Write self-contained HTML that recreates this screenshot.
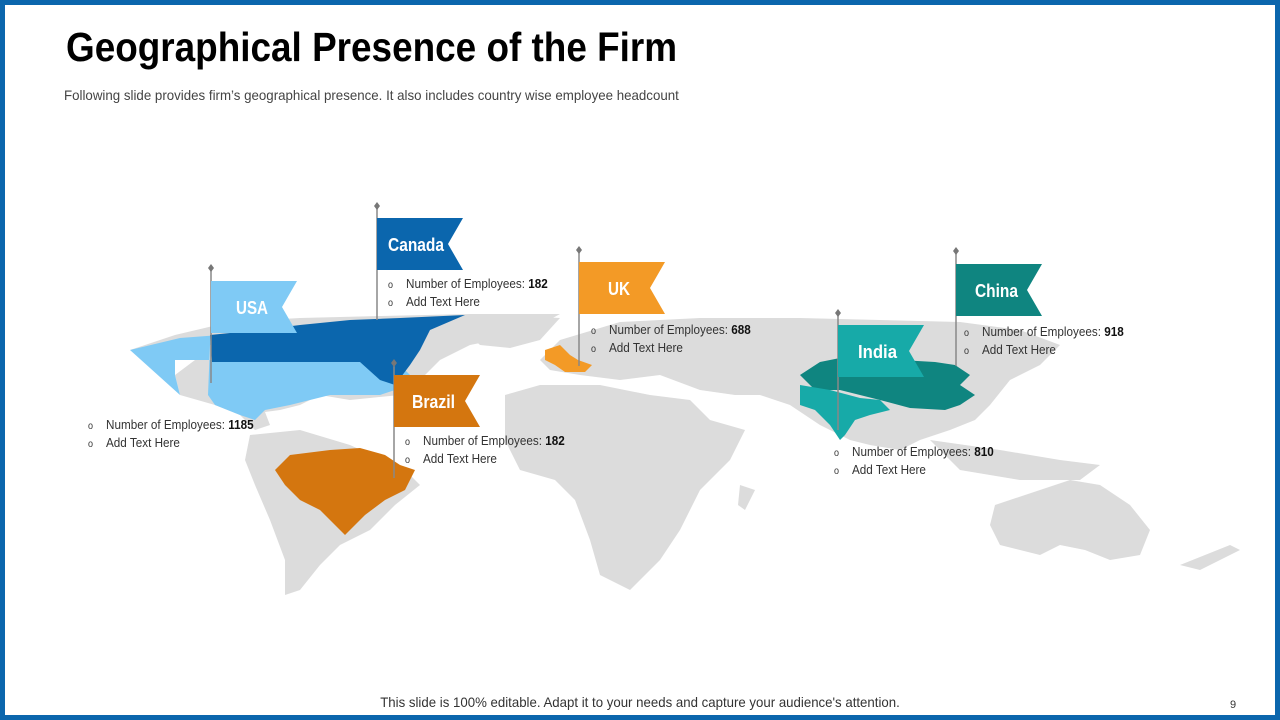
<!DOCTYPE html>
<html><head><meta charset="utf-8"><style>
html,body{margin:0;padding:0}
body{width:1280px;height:720px;position:relative;overflow:hidden;background:#fff;font-family:"Liberation Sans",sans-serif}
.frame{position:absolute;left:0;top:0;width:1270px;height:710px;border:5px solid #0b66ad}
.t{position:absolute;left:66px;top:24px;font-size:41px;font-weight:bold;color:#000;transform:scaleX(.9);transform-origin:left;white-space:nowrap}
.s{position:absolute;left:64px;top:87px;font-size:14px;color:#444;transform:scaleX(.95);transform-origin:left;white-space:nowrap}
.foot{position:absolute;left:0;width:1280px;top:694px;text-align:center;font-size:14px;color:#333;transform:scaleX(.945)}
.pg{position:absolute;left:1230px;top:699px;font-size:11px;color:#333}
.b{position:absolute;font-size:13px;color:#333;line-height:16px;transform:scaleX(.9);transform-origin:left;white-space:nowrap}
.b div:before{content:"o";display:inline-block;width:20px;font-size:10px}
.b b{color:#111}
</style></head><body>
<div class="frame"></div>
<div class="t">Geographical Presence of the Firm</div>
<div class="s">Following slide provides firm’s geographical presence. It also includes country wise employee headcount</div>
<svg width="1280" height="720" style="position:absolute;left:0;top:0">
<g fill="#dcdcdc">
<path d="M130,350 L175,335 L230,322 L300,318 L380,316 L470,314 L560,314 L540,325 L520,335 L470,345 L440,360 L420,380 L400,395 L350,400 L320,395 L300,405 L280,410 L265,412 L270,425 L255,430 L240,415 L215,405 L180,395 L175,375 L195,360 L170,355 Z"/>
<path d="M455,322 L520,316 L560,318 L540,340 L510,348 L480,345 Z"/>
<path d="M250,435 L300,430 L350,445 L405,470 L420,485 L395,505 L370,530 L340,545 L320,565 L300,590 L285,595 L285,560 L270,520 L255,485 L245,460 Z"/>
<path d="M560,340 L620,322 L700,318 L800,318 L880,320 L960,322 L1020,330 L1060,345 L1040,365 L1010,380 L990,405 L975,420 L950,430 L920,440 L900,450 L870,445 L850,440 L820,425 L790,405 L760,395 L735,395 L700,390 L660,375 L620,380 L580,375 L550,370 L540,360 Z"/>
<path d="M505,395 L540,385 L600,385 L650,395 L690,400 L710,420 L745,430 L730,460 L700,490 L680,530 L660,560 L630,590 L600,575 L590,540 L575,500 L555,480 L520,470 L505,440 Z"/>
<path d="M740,485 L755,490 L745,510 L738,505 Z"/>
<path d="M930,440 L1000,450 L1060,460 L1100,465 L1080,480 L1020,480 L960,470 Z"/>
<path d="M995,505 L1040,490 L1070,480 L1100,485 L1130,505 L1150,530 L1140,555 L1110,560 L1085,550 L1060,545 L1040,555 L1000,545 L990,525 Z"/>
<path d="M1180,565 L1230,545 L1240,550 L1200,570 Z"/>
</g>
<path fill="#7fcaf5" d="M130,350 L180,338 L220,335 L235,338 L210,345 L208,395 L215,405 L240,415 L255,420 L265,410 L290,405 L330,395 L380,395 L395,390 L410,375 L400,365 L380,360 L300,360 L210,360 L175,360 L175,375 L180,395 Z"/>
<path fill="#0b66ad" d="M210,335 L260,330 L300,325 L350,320 L400,318 L465,315 L430,330 L420,350 L410,365 L395,385 L380,380 L360,362 L300,362 L212,362 Z"/>
<path fill="#d4760f" d="M290,455 L330,450 L360,448 L385,455 L400,465 L415,470 L405,490 L385,500 L365,515 L355,525 L345,535 L335,525 L320,510 L300,500 L285,485 L275,470 Z"/>
<path fill="#f39a26" d="M545,350 L560,345 L570,355 L578,360 L592,365 L585,372 L565,372 L555,365 L545,360 Z"/>
<path fill="#0f8580" d="M800,375 L820,362 L850,356 L880,360 L900,360 L935,362 L955,365 L970,375 L960,385 L975,395 L960,405 L945,410 L910,408 L880,400 L860,395 L840,390 L815,390 Z"/>
<path fill="#17aaa8" d="M800,385 L830,390 L860,398 L880,400 L890,410 L870,415 L855,420 L845,435 L840,440 L830,425 L815,410 L800,405 Z"/>
<g stroke="#888" stroke-width="1.5">
<line x1="211" y1="268" x2="211" y2="383"/><line x1="377" y1="206" x2="377" y2="320"/><line x1="579" y1="250" x2="579" y2="366"/><line x1="394" y1="363" x2="394" y2="478"/><line x1="838" y1="313" x2="838" y2="430"/><line x1="956" y1="251" x2="956" y2="366"/>
</g>
<g fill="#777">
<path d="M211,264 l3,4 l-3,4 l-3,-4z"/><path d="M377,202 l3,4 l-3,4 l-3,-4z"/><path d="M579,246 l3,4 l-3,4 l-3,-4z"/><path d="M394,359 l3,4 l-3,4 l-3,-4z"/><path d="M838,309 l3,4 l-3,4 l-3,-4z"/><path d="M956,247 l3,4 l-3,4 l-3,-4z"/>
</g>
<path fill="#7fcaf5" d="M211,281 h86 l-15,26 l15,26 h-86z"/>
<path fill="#0b66ad" d="M377,218 h86 l-15,26 l15,26 h-86z"/>
<path fill="#f39a26" d="M579,262 h86 l-15,26 l15,26 h-86z"/>
<path fill="#d4760f" d="M394,375 h86 l-15,26 l15,26 h-86z"/>
<path fill="#17aaa8" d="M838,325 h86 l-15,26 l15,26 h-86z"/>
<path fill="#0f8580" d="M956,264 h86 l-15,26 l15,26 h-86z"/>
<g fill="#fff" font-family="Liberation Sans,sans-serif" font-weight="bold" font-size="18">
<text x="236" y="314" textLength="32" lengthAdjust="spacingAndGlyphs">USA</text>
<text x="388" y="251" textLength="56" lengthAdjust="spacingAndGlyphs">Canada</text>
<text x="608" y="295" textLength="22" lengthAdjust="spacingAndGlyphs">UK</text>
<text x="412" y="408" textLength="43" lengthAdjust="spacingAndGlyphs">Brazil</text>
<text x="858" y="358" textLength="39" lengthAdjust="spacingAndGlyphs">India</text>
<text x="975" y="297" textLength="43" lengthAdjust="spacingAndGlyphs">China</text>
</g>
</svg>
<div class="b" style="left:388px;top:276px"><div>Number of Employees: <b>182</b></div><div>Add Text Here</div></div>
<div class="b" style="left:88px;top:417px"><div>Number of Employees: <b>1185</b></div><div>Add Text Here</div></div>
<div class="b" style="left:591px;top:322px"><div>Number of Employees: <b>688</b></div><div>Add Text Here</div></div>
<div class="b" style="left:405px;top:433px"><div>Number of Employees: <b>182</b></div><div>Add Text Here</div></div>
<div class="b" style="left:834px;top:444px"><div>Number of Employees: <b>810</b></div><div>Add Text Here</div></div>
<div class="b" style="left:964px;top:324px"><div>Number of Employees: <b>918</b></div><div>Add Text Here</div></div>
<div class="foot">This slide is 100% editable. Adapt it to your needs and capture your audience's attention.</div>
<div class="pg">9</div>
</body></html>
